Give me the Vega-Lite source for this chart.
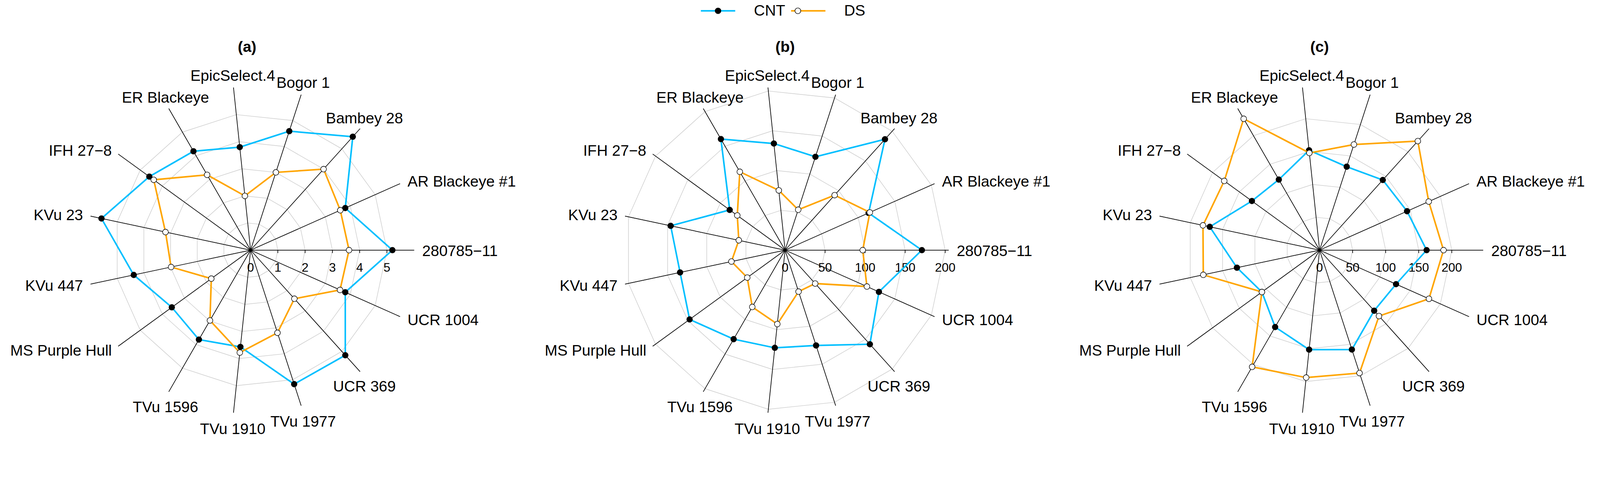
{
"$schema":"https://vega.github.io/schema/vega-lite/v6.json",
"background":"white",
"padding":{"left":2,"top":8,"right":0,"bottom":0},
"spacing":29.3,
"config":{"font":"Liberation Sans","view":{"stroke":null}},
"data":{"values":[
{"type":"val","panel":"(a)","k":0,"variety":"280785−11","CNT":5.20,"DS":3.61},
{"type":"val","panel":"(a)","k":1,"variety":"AR Blackeye #1","CNT":3.80,"DS":3.60},
{"type":"val","panel":"(a)","k":2,"variety":"Bambey 28","CNT":5.60,"DS":4.00},
{"type":"val","panel":"(a)","k":3,"variety":"Bogor 1","CNT":4.59,"DS":3.00},
{"type":"val","panel":"(a)","k":4,"variety":"EpicSelect.4","CNT":3.80,"DS":2.00},
{"type":"val","panel":"(a)","k":5,"variety":"ER Blackeye","CNT":4.19,"DS":3.19},
{"type":"val","panel":"(a)","k":6,"variety":"IFH 27−8","CNT":4.59,"DS":4.39},
{"type":"val","panel":"(a)","k":7,"variety":"KVu 23","CNT":5.59,"DS":3.19},
{"type":"val","panel":"(a)","k":8,"variety":"KVu 447","CNT":4.38,"DS":2.98},
{"type":"val","panel":"(a)","k":9,"variety":"MS Purple Hull","CNT":3.57,"DS":1.78},
{"type":"val","panel":"(a)","k":10,"variety":"TVu 1596","CNT":3.79,"DS":2.98},
{"type":"val","panel":"(a)","k":11,"variety":"TVu 1910","CNT":3.57,"DS":3.78},
{"type":"val","panel":"(a)","k":12,"variety":"TVu 1977","CNT":5.17,"DS":3.19},
{"type":"val","panel":"(a)","k":13,"variety":"UCR 369","CNT":5.19,"DS":2.40},
{"type":"val","panel":"(a)","k":14,"variety":"UCR 1004","CNT":3.80,"DS":3.59},
{"type":"val","panel":"(b)","k":0,"variety":"280785−11","CNT":170.9,"DS":97.0},
{"type":"val","panel":"(b)","k":1,"variety":"AR Blackeye #1","CNT":114.2,"DS":115.9},
{"type":"val","panel":"(b)","k":2,"variety":"Bambey 28","CNT":186.5,"DS":92.5},
{"type":"val","panel":"(b)","k":3,"variety":"Bogor 1","CNT":122.7,"DS":53.1},
{"type":"val","panel":"(b)","k":4,"variety":"EpicSelect.4","CNT":134.0,"DS":75.1},
{"type":"val","panel":"(b)","k":5,"variety":"ER Blackeye","CNT":160.3,"DS":113.1},
{"type":"val","panel":"(b)","k":6,"variety":"IFH 27−8","CNT":85.5,"DS":73.8},
{"type":"val","panel":"(b)","k":7,"variety":"KVu 23","CNT":146.1,"DS":59.1},
{"type":"val","panel":"(b)","k":8,"variety":"KVu 447","CNT":134.1,"DS":68.5},
{"type":"val","panel":"(b)","k":9,"variety":"MS Purple Hull","CNT":147.4,"DS":58.4},
{"type":"val","panel":"(b)","k":10,"variety":"TVu 1596","CNT":128.5,"DS":82.0},
{"type":"val","panel":"(b)","k":11,"variety":"TVu 1910","CNT":122.8,"DS":92.9},
{"type":"val","panel":"(b)","k":12,"variety":"TVu 1977","CNT":125.3,"DS":54.5},
{"type":"val","panel":"(b)","k":13,"variety":"UCR 369","CNT":158.3,"DS":56.2},
{"type":"val","panel":"(b)","k":14,"variety":"UCR 1004","CNT":128.3,"DS":111.9},
{"type":"val","panel":"(c)","k":0,"variety":"280785−11","CNT":161.9,"DS":187.5},
{"type":"val","panel":"(c)","k":1,"variety":"AR Blackeye #1","CNT":144.8,"DS":180.7},
{"type":"val","panel":"(c)","k":2,"variety":"Bambey 28","CNT":142.9,"DS":222.1},
{"type":"val","panel":"(c)","k":3,"variety":"Bogor 1","CNT":132.8,"DS":168.1},
{"type":"val","panel":"(c)","k":4,"variety":"EpicSelect.4","CNT":152.0,"DS":147.9},
{"type":"val","panel":"(c)","k":5,"variety":"ER Blackeye","CNT":123.3,"DS":229.6},
{"type":"val","panel":"(c)","k":6,"variety":"IFH 27−8","CNT":126.5,"DS":178.2},
{"type":"val","panel":"(c)","k":7,"variety":"KVu 23","CNT":169.8,"DS":180.3},
{"type":"val","panel":"(c)","k":8,"variety":"KVu 447","CNT":127.8,"DS":179.8},
{"type":"val","panel":"(c)","k":9,"variety":"MS Purple Hull","CNT":107.8,"DS":107.8},
{"type":"val","panel":"(c)","k":10,"variety":"TVu 1596","CNT":134.4,"DS":204.0},
{"type":"val","panel":"(c)","k":11,"variety":"TVu 1910","CNT":151.4,"DS":194.0},
{"type":"val","panel":"(c)","k":12,"variety":"TVu 1977","CNT":158.2,"DS":195.6},
{"type":"val","panel":"(c)","k":13,"variety":"UCR 369","CNT":123.4,"DS":134.3},
{"type":"val","panel":"(c)","k":14,"variety":"UCR 1004","CNT":126.6,"DS":181.1},
{"type":"grid","panel":"(a)","level":0,"ks":[0,1,2,3,4,5,6,7,8,9,10,11,12,13,14]},
{"type":"grid","panel":"(a)","level":1,"ks":[0,1,2,3,4,5,6,7,8,9,10,11,12,13,14]},
{"type":"grid","panel":"(a)","level":2,"ks":[0,1,2,3,4,5,6,7,8,9,10,11,12,13,14]},
{"type":"grid","panel":"(a)","level":3,"ks":[0,1,2,3,4,5,6,7,8,9,10,11,12,13,14]},
{"type":"grid","panel":"(a)","level":4,"ks":[0,1,2,3,4,5,6,7,8,9,10,11,12,13,14]},
{"type":"grid","panel":"(a)","level":5,"ks":[0,1,2,3,4,5,6,7,8,9,10,11,12,13,14]},
{"type":"grid","panel":"(b)","level":0,"ks":[0,1,2,3,4,5,6,7,8,9,10,11,12,13,14]},
{"type":"grid","panel":"(b)","level":50,"ks":[0,1,2,3,4,5,6,7,8,9,10,11,12,13,14]},
{"type":"grid","panel":"(b)","level":100,"ks":[0,1,2,3,4,5,6,7,8,9,10,11,12,13,14]},
{"type":"grid","panel":"(b)","level":150,"ks":[0,1,2,3,4,5,6,7,8,9,10,11,12,13,14]},
{"type":"grid","panel":"(b)","level":200,"ks":[0,1,2,3,4,5,6,7,8,9,10,11,12,13,14]},
{"type":"grid","panel":"(c)","level":0,"ks":[0,1,2,3,4,5,6,7,8,9,10,11,12,13,14]},
{"type":"grid","panel":"(c)","level":50,"ks":[0,1,2,3,4,5,6,7,8,9,10,11,12,13,14]},
{"type":"grid","panel":"(c)","level":100,"ks":[0,1,2,3,4,5,6,7,8,9,10,11,12,13,14]},
{"type":"grid","panel":"(c)","level":150,"ks":[0,1,2,3,4,5,6,7,8,9,10,11,12,13,14]},
{"type":"grid","panel":"(c)","level":200,"ks":[0,1,2,3,4,5,6,7,8,9,10,11,12,13,14]}
]},
"facet":{"column":{"field":"panel","type":"nominal","header":null}},
"spec":{
"width":1339,"height":1029,
"transform":[{"calculate":"datum.panel=='(a)'?6:(datum.panel=='(b)'?204.4:247.5)","as":"S"}],
"encoding":{
"x":{"field":"px","type":"quantitative","scale":{"domain":[-1.52662,1.66985],"nice":false,"zero":false},"axis":null},
"y":{"field":"py","type":"quantitative","scale":{"domain":[-1.15111,1.30532],"nice":false,"zero":false},"axis":null}
},
"layer":[
{"transform":[{"filter":"datum.type=='grid' && datum.level>0"},{"flatten":["ks"]},{"calculate":"datum.level/datum.S*cos(datum.ks*2*PI/15)","as":"px"},{"calculate":"datum.level/datum.S*sin(datum.ks*2*PI/15)","as":"py"}],
 "mark":{"type":"line","interpolate":"linear-closed","stroke":"#CCCCCC","strokeWidth":1.4},
 "encoding":{"detail":{"field":"level","type":"nominal"},"order":{"field":"ks","type":"quantitative"}}},
{"transform":[{"filter":"datum.type=='val'"},{"calculate":"0","as":"px"},{"calculate":"0","as":"py"},{"calculate":"cos(datum.k*2*PI/15)","as":"ex"},{"calculate":"sin(datum.k*2*PI/15)","as":"ey"}],
 "mark":{"type":"rule","stroke":"black","strokeWidth":1.7},
 "encoding":{"x2":{"field":"ex"},"y2":{"field":"ey"}}},
{"transform":[{"filter":"datum.type=='grid' && datum.level>0"},{"calculate":"datum.level/datum.S","as":"px"},{"calculate":"0","as":"py"}],
 "mark":{"type":"point","shape":"M0,0L0,1","size":219,"stroke":"black","strokeWidth":1.7,"filled":false,"opacity":1}},
{"transform":[{"filter":"datum.type=='grid'"},{"calculate":"datum.level/datum.S","as":"px"},{"calculate":"0","as":"py"}],
 "mark":{"type":"text","fontSize":31.5,"baseline":"alphabetic","align":"center","dy":55.6,"color":"black"},
 "encoding":{"text":{"field":"level","type":"quantitative"}}},
{"transform":[{"filter":"datum.type=='grid' && datum.level==0"},{"calculate":"datum.panel=='(a)'?-0.0215:0","as":"px"},{"calculate":"1.2125","as":"py"}],
 "mark":{"type":"text","fontSize":39,"fontWeight":"bold","baseline":"alphabetic","align":"center","color":"black"},
 "encoding":{"text":{"field":"panel","type":"nominal"}}},
{"transform":[{"filter":"datum.type=='val'"},{"fold":["CNT","DS"],"as":["trt","value"]},{"filter":"datum.trt=='CNT'"},{"calculate":"datum.value/datum.S*cos(datum.k*2*PI/15)","as":"px"},{"calculate":"datum.value/datum.S*sin(datum.k*2*PI/15)","as":"py"}],
 "mark":{"type":"line","interpolate":"linear-closed","strokeWidth":4},
 "encoding":{"stroke":{"field":"trt","type":"nominal","scale":{"range":["#00BFFF","#FFA500"]},
   "legend":{"orient":"none","legendX":1790.2,"legendY":-86,"direction":"horizontal","title":null,"symbolType":"M-4,0L4,0","symbolSize":484,"symbolStrokeWidth":4,"symbolOffset":26.5,"labelFontSize":39,"labelColor":"black","labelOffset":72.3,"columnPadding":6.9,"padding":0}},
  "order":{"field":"k","type":"quantitative"}}},
{"transform":[{"filter":"datum.type=='val'"},{"fold":["CNT","DS"],"as":["trt","value"]},{"filter":"datum.trt=='CNT'"},{"calculate":"datum.trt","as":"trt2"},{"calculate":"datum.value/datum.S*cos(datum.k*2*PI/15)","as":"px"},{"calculate":"datum.value/datum.S*sin(datum.k*2*PI/15)","as":"py"}],
 "mark":{"type":"point","shape":"circle","filled":true,"size":214,"stroke":"black","strokeWidth":1.4,"opacity":1},
 "encoding":{"fill":{"field":"trt2","type":"nominal","scale":{"range":["black","white"]},
   "legend":{"orient":"none","legendX":1790.2,"legendY":-86,"direction":"horizontal","title":null,"symbolType":"M-4.12,0L-4.1199,0M4.1199,0L4.12,0M0.673,0C0.673,0.3717,0.3717,0.673,0,0.673C-0.3717,0.673,-0.673,0.3717,-0.673,0C-0.673,-0.3717,-0.3717,-0.673,0,-0.673C0.3717,-0.673,0.673,-0.3717,0.673,0Z","symbolSize":484,"symbolStrokeColor":"black","symbolStrokeWidth":1.4,"symbolOpacity":1,"symbolOffset":26.5,"labelFontSize":39,"labelExpr":"' '","labelOffset":7,"columnPadding":106.3,"padding":0,"zindex":1}}}},
{"transform":[{"filter":"datum.type=='val'"},{"fold":["CNT","DS"],"as":["trt","value"]},{"filter":"datum.trt=='DS'"},{"calculate":"datum.value/datum.S*cos(datum.k*2*PI/15)","as":"px"},{"calculate":"datum.value/datum.S*sin(datum.k*2*PI/15)","as":"py"}],
 "mark":{"type":"line","interpolate":"linear-closed","strokeWidth":4},
 "encoding":{"stroke":{"field":"trt","type":"nominal"},"order":{"field":"k","type":"quantitative"}}},
{"transform":[{"filter":"datum.type=='val'"},{"fold":["CNT","DS"],"as":["trt","value"]},{"filter":"datum.trt=='DS'"},{"calculate":"datum.trt","as":"trt2"},{"calculate":"datum.value/datum.S*cos(datum.k*2*PI/15)","as":"px"},{"calculate":"datum.value/datum.S*sin(datum.k*2*PI/15)","as":"py"}],
 "mark":{"type":"point","shape":"circle","filled":true,"size":214,"stroke":"black","strokeWidth":1.4,"opacity":1},
 "encoding":{"fill":{"field":"trt2","type":"nominal"}}},
{"transform":[{"filter":"datum.type=='val' && (datum.k<=1 || datum.k==14)"},{"calculate":"1.04*cos(datum.k*2*PI/15)","as":"px"},{"calculate":"1.04*sin(datum.k*2*PI/15)","as":"py"}],
 "mark":{"type":"text","fontSize":39,"align":"left","baseline":"alphabetic","dx":3.7,"dy":14.8,"color":"black"},
 "encoding":{"text":{"field":"variety"}}},
{"transform":[{"filter":"datum.type=='val' && datum.k>=2 && datum.k<=5"},{"calculate":"1.04*cos(datum.k*2*PI/15)","as":"px"},{"calculate":"1.04*sin(datum.k*2*PI/15)","as":"py"}],
 "mark":{"type":"text","fontSize":39,"align":"center","baseline":"alphabetic","dy":-1,"color":"black"},
 "encoding":{"text":{"field":"variety"}}},
{"transform":[{"filter":"datum.type=='val' && datum.k>=6 && datum.k<=9"},{"calculate":"1.04*cos(datum.k*2*PI/15)","as":"px"},{"calculate":"1.04*sin(datum.k*2*PI/15)","as":"py"}],
 "mark":{"type":"text","fontSize":39,"align":"right","baseline":"alphabetic","dx":-2.8,"dy":13.9,"color":"black"},
 "encoding":{"text":{"field":"variety"}}},
{"transform":[{"filter":"datum.type=='val' && datum.k>=10 && datum.k<=13"},{"calculate":"1.04*cos(datum.k*2*PI/15)","as":"px"},{"calculate":"1.04*sin(datum.k*2*PI/15)","as":"py"}],
 "mark":{"type":"text","fontSize":39,"align":"center","baseline":"alphabetic","dy":38,"color":"black"},
 "encoding":{"text":{"field":"variety"}}}
]
}
}
